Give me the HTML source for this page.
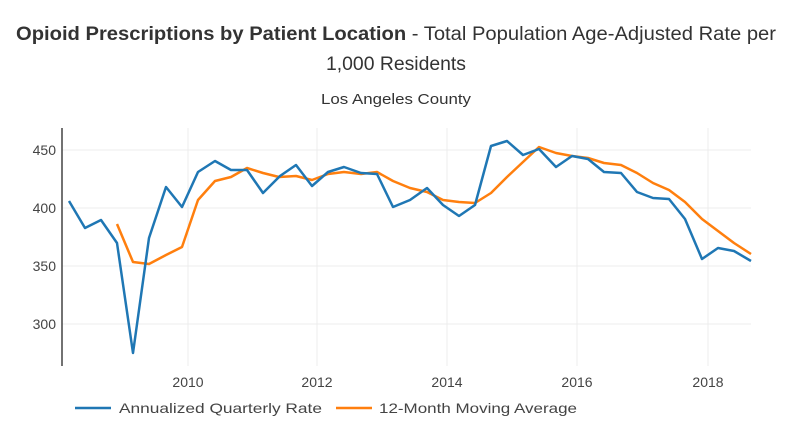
<!DOCTYPE html>
<html><head><meta charset="utf-8"><style>body{margin:0;background:#fff}svg{display:block}</style></head>
<body>
<svg width="792" height="442" viewBox="0 0 792 442" xmlns="http://www.w3.org/2000/svg" font-family="Liberation Sans, sans-serif">
<rect width="792" height="442" fill="#fff"/>
<text x="396" y="40" text-anchor="middle" font-size="19" fill="#333" textLength="760" lengthAdjust="spacingAndGlyphs"><tspan font-weight="bold">Opioid Prescriptions by Patient Location</tspan> - Total Population Age-Adjusted Rate per</text>
<text x="396" y="70" text-anchor="middle" font-size="19" fill="#333" textLength="140" lengthAdjust="spacingAndGlyphs">1,000 Residents</text>
<text x="396" y="104" text-anchor="middle" font-size="15" fill="#333" textLength="150" lengthAdjust="spacingAndGlyphs">Los Angeles County</text>
<g stroke="#ececec" stroke-width="1">
<line x1="62" y1="150" x2="751" y2="150"/><line x1="62" y1="208" x2="751" y2="208"/><line x1="62" y1="266" x2="751" y2="266"/><line x1="62" y1="324" x2="751" y2="324"/>
<line x1="188" y1="128" x2="188" y2="366"/><line x1="317" y1="128" x2="317" y2="366"/><line x1="447" y1="128" x2="447" y2="366"/><line x1="577" y1="128" x2="577" y2="366"/><line x1="708" y1="128" x2="708" y2="366"/>
</g>
<line x1="62" y1="128" x2="62" y2="366" stroke="#444" stroke-width="1.5"/>
<g font-size="14" fill="#444" text-anchor="end">
<text x="56" y="155">450</text><text x="56" y="213">400</text><text x="56" y="271">350</text><text x="56" y="329">300</text>
</g>
<g font-size="14" fill="#444" text-anchor="middle">
<text x="188" y="387">2010</text><text x="317" y="387">2012</text><text x="447" y="387">2014</text><text x="577" y="387">2016</text><text x="708" y="387">2018</text>
</g>
<polyline fill="none" stroke="#ff7f0e" stroke-width="2.5" stroke-linejoin="round" points="117,224 133,262 149,264 166,255 182,247 198,200 215,181 231,177 247,168 263,173 279,177 296,176 312,180 328,174 344,172 361,174 377,172 393,181 410,188 427,192 443,200 459,202 475,203 491,193 507,177 523,162 539,147 556,153 572,156 588,158 604,163 621,165 637,173 653,183 669,190 685,202 702,219 718,231 734,243 751,254"/>
<polyline fill="none" stroke="#1f77b4" stroke-width="2.5" stroke-linejoin="round" points="69,201 85,228 101,220 117,243 133,353 149,238 166,187 182,207 198,172 215,161 231,170 247,170 263,193 280,176 296,165 312,186 328,172 344,167 361,173 377,174 393,207 410,200 427,188 443,205 459,216 475,205 491,146 507,141 523,155 539,149 556,167 572,156 588,159 604,172 621,173 637,192 653,198 669,199 685,219 702,259 718,248 734,251 751,261"/>
<line x1="75" y1="408" x2="111" y2="408" stroke="#1f77b4" stroke-width="2.5"/>
<text x="119" y="413" font-size="14" fill="#444" textLength="203" lengthAdjust="spacingAndGlyphs">Annualized Quarterly Rate</text>
<line x1="336" y1="408" x2="372" y2="408" stroke="#ff7f0e" stroke-width="2.5"/>
<text x="379" y="413" font-size="14" fill="#444" textLength="198" lengthAdjust="spacingAndGlyphs">12-Month Moving Average</text>
</svg>
</body></html>
